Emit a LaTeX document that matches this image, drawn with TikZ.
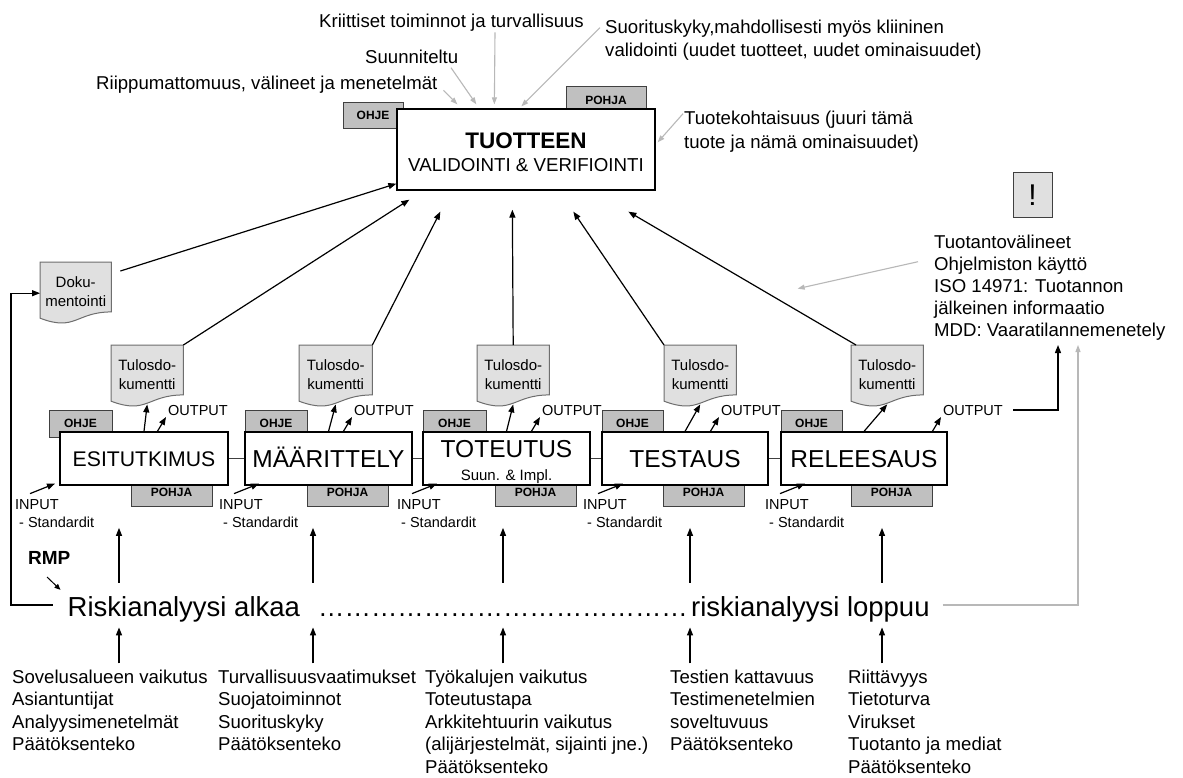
\documentclass[tikz,border=0pt]{standalone}
\usepackage{fontspec}
\setmainfont{Liberation Sans}
\usetikzlibrary{arrows.meta,calc}
\pgfdeclarelayer{back}
\pgfsetlayers{back,main}

\newcommand\fsz[2]{\fontsize{#1}{#2}\selectfont}

\definecolor{tabfill}{HTML}{C0C0C0}
\definecolor{tabline}{HTML}{404040}
\definecolor{docfill}{HTML}{E0E0E0}
\definecolor{docline}{HTML}{6E6E6E}
\definecolor{hint}{HTML}{B8B8B8}
\definecolor{link}{HTML}{404040}

% document symbol (wavy lower edge) drawn round a named node
\newcommand\docpath[1]{%
  \draw[docshape] let \p1=(#1.north west), \p2=(#1.south east) in
    (\x1,\y1) -- (\x2,\y1) -- (\x2,{\y1+0.80*((\y2)-(\y1))})
    .. controls ({0.5*(\x1+\x2)},{\y1+0.80*((\y2)-(\y1))})
            and ({0.5*(\x1+\x2)},{\y1+1.12*((\y2)-(\y1))})
    .. (\x1,{\y1+0.90*((\y2)-(\y1))}) -- cycle;}

\begin{document}
\begin{tikzpicture}[x=1pt,y=-1pt,
  wbox/.style={draw=black, line width=1.2pt, fill=white, inner sep=0pt},
  stage/.style={wbox, minimum height=53pt, font=\fsz{24.5}{28},
                text height=17.5pt, text depth=0pt},
  tabbox/.style={draw=tabline, line width=1pt, fill=tabfill, inner sep=0pt,
                 font=\bfseries\fsz{12}{14}, text height=8.6pt, text depth=0pt},
  ohje/.style={tabbox, minimum width=62pt, minimum height=27pt},
  pohja/.style={tabbox, minimum width=81pt, minimum height=28pt},
  docnode/.style={inner sep=0pt, minimum width=72pt, minimum height=62pt,
                  anchor=north west, font=\fsz{15}{19}},
  docshape/.style={draw=docline, fill=docfill, line width=1pt},
  lbl/.style={inner sep=0pt, font=\fsz{18.6}{22.5}},
  iolbl/.style={inner sep=0pt, font=\fsz{14.5}{18}},
  big/.style={inner sep=0pt, font=\fsz{27.5}{30}},
  barrow/.style={draw=black, line width=1.2pt, -{Triangle[length=8pt,width=6pt]}},
  garrow/.style={draw=hint, line width=1.1pt, -{Triangle[length=7pt,width=5pt]}},
  link/.style={draw=link, line width=1pt}
]
\useasboundingbox (0,0) rectangle (1183,777);
\begin{pgfonlayer}{back}
  \fill[white] (0,0) rectangle (1183,777);
\end{pgfonlayer}

% ---------- product box with its tabs ----------
\node[tabbox, minimum width=60pt, minimum height=26pt] (mohje) at (373,115) {OHJE};
\node[tabbox, minimum width=80pt, minimum height=28pt] (mpohja) at (606,100) {POHJA};
\node[wbox, line width=1.3pt, minimum width=258pt, minimum height=81pt,
      font=\bfseries\fsz{22.5}{26}, text height=16.1pt, text depth=0pt]
      (main) at (526,149.5) {\raisebox{9.5pt}{TUOTTEEN}};
\node[inner sep=0pt, anchor=base, font=\fsz{18.7}{22}] (mainsub) at (526,171.7)
      {VALIDOINTI \& VERIFIOINTI};

% ---------- labels round the product box ----------
\node[lbl, anchor=base west] (krit) at (319,27.3) {Kriittiset toiminnot ja turvallisuus};
\node[lbl, anchor=base west] (suun) at (365,63.3) {Suunniteltu};
\node[lbl, anchor=base west] (riip) at (96,89.3) {Riippumattomuus, välineet ja menetelmät};
\node[lbl, anchor=north west, align=left, font=\fsz{18.6}{23}] (suor) at (605,19.7)
      {Suorituskyky,mahdollisesti myös kliininen\\validointi (uudet tuotteet, uudet ominaisuudet)};
\node[lbl, anchor=north west, align=left, font=\fsz{18.6}{24}] (tuote) at (684,110.7)
      {Tuotekohtaisuus (juuri tämä\\tuote ja nämä ominaisuudet)};

\node[draw=tabline, fill=docfill, line width=1pt, minimum width=39pt, minimum height=45pt,
      inner sep=0pt, font=\fsz{30}{32}, text height=21.5pt, text depth=0pt]
      (excl) at (1032.5,194.5) {!};
\node[lbl, anchor=north west, align=left, font=\fsz{18.6}{22}] (rblk) at (934,234.7)
      {Tuotantovälineet\\Ohjelmiston käyttö\\ISO 14971: Tuotannon\\jälkeinen informaatio\\MDD: Vaaratilannemenetely};

\draw[garrow] ($(krit.south west)+(176,1)$) -- ($(main.north west)+(98,-4)$);
\draw[garrow] ($(suun.south west)+(86,4)$) -- ($(main.north west)+(80,-4)$);
\draw[garrow] ($(riip.south east)+(6,-3)$) -- ($(main.north west)+(61,-4)$);
\draw[garrow] ($(suor.north west)+(-5,8)$) -- ($(main.north west)+(125,-2)$);
\draw[garrow] ($(tuote.north west)+(-1,3)$) -- ($(main.north east)+(2,34)$);
\draw[garrow] ($(rblk.north west)+(-16,27)$) -- ($(main.south east)+(142,98)$);

% ---------- tabs behind the phase boxes ----------
\node[ohje, minimum width=63pt] (o1) at (80.5,423.5) {OHJE};
\node[ohje] (o2) at (276,423.5) {OHJE};
\node[ohje, minimum width=63pt] (o3) at (454.5,423.5) {OHJE};
\node[ohje, minimum width=61pt] (o4) at (632.5,423.5) {OHJE};
\node[ohje, minimum width=61pt] (o5) at (811.5,423.5) {OHJE};
\node[pohja] (p1) at (171.5,492) {POHJA};
\node[pohja] (p2) at (347.5,492) {POHJA};
\node[pohja] (p3) at (535.5,492) {POHJA};
\node[pohja] (p4) at (703.5,492) {POHJA};
\node[pohja] (p5) at (891.5,492) {POHJA};

% ---------- phase boxes ----------
\node[stage, minimum width=168pt, font=\fsz{21.2}{25}, text height=15.2pt] (esi) at (144,458.5) {ESITUTKIMUS};
\node[stage, minimum width=167pt] (maa) at (328.5,458.5) {MÄÄRITTELY};
\node[stage, minimum width=167pt] (tot) at (506.5,458.5) {\raisebox{10pt}{TOTEUTUS}};
\node[stage, minimum width=166pt] (tes) at (685,458.5) {TESTAUS};
\node[stage, minimum width=166pt] (rel) at (864,458.5) {RELEESAUS};
\node[inner sep=0pt, anchor=base, font=\fsz{15}{18}] (totsub) at (506.5,480.4) {Suun. \& Impl.};

\draw[link] (esi.east) -- (maa.west);
\draw[link] (maa.east) -- (tot.west);
\draw[link] (tot.east) -- (tes.west);
\draw[link] (tes.east) -- (rel.west);

% ---------- result documents ----------
\node[docnode] (t1) at (111,345) {\begin{tabular}{@{}c@{}}Tulosdo-\\kumentti\end{tabular}};
\node[docnode, minimum width=73pt] (t2) at (299,345) {\begin{tabular}{@{}c@{}}Tulosdo-\\kumentti\end{tabular}};
\node[docnode] (t3) at (477,345) {\begin{tabular}{@{}c@{}}Tulosdo-\\kumentti\end{tabular}};
\node[docnode] (t4) at (664,345) {\begin{tabular}{@{}c@{}}Tulosdo-\\kumentti\end{tabular}};
\node[docnode] (t5) at (851,345) {\begin{tabular}{@{}c@{}}Tulosdo-\\kumentti\end{tabular}};
\node[docnode, minimum width=71pt] (dok) at (40,262) {\begin{tabular}{@{}c@{}}Doku-\\mentointi\end{tabular}};
\begin{pgfonlayer}{back}
  \docpath{t1}\docpath{t2}\docpath{t3}\docpath{t4}\docpath{t5}\docpath{dok}
\end{pgfonlayer}

\draw[barrow] (esi.north) -- ($(t1.south)+(0,-3)$);
\draw[barrow] (maa.north) -- ($(t2.south)+(0,-3)$);
\draw[barrow] (tot.north) -- ($(t3.south)+(0,-3)$);
\draw[barrow] (tes.north) -- ($(t4.south)+(0,-3)$);
\draw[barrow] (rel.north) -- ($(t5.south)+(0,-3)$);

\draw[barrow] (t1.north east) -- ($(main.south west)+(13,9)$);
\draw[barrow] (t2.north east) -- ($(main.south west)+(44,21)$);
\draw[barrow] (t3.north) -- ($(main.south west)+(116,19)$);
\draw[barrow] (t4.north west) -- ($(main.south west)+(177,21)$);
\draw[barrow] ($(t5.north west)+(5,0)$) -- ($(main.south west)+(232,21)$);
\draw[barrow] ($(dok.north east)+(9,9)$) -- ($(main.south west)+(0,-7)$);

% ---------- inputs and outputs ----------
\node[iolbl, anchor=north west, align=left] (in1) at (15,499.6) {INPUT\\\hspace*{4pt}- Standardit};
\node[iolbl, anchor=north west, align=left] (in2) at (219,499.6) {INPUT\\\hspace*{4pt}- Standardit};
\node[iolbl, anchor=north west, align=left] (in3) at (397,499.6) {INPUT\\\hspace*{4pt}- Standardit};
\node[iolbl, anchor=north west, align=left] (in4) at (583,499.6) {INPUT\\\hspace*{4pt}- Standardit};
\node[iolbl, anchor=north west, align=left] (in5) at (765,499.6) {INPUT\\\hspace*{4pt}- Standardit};
\foreach \i in {1,...,5}
  \draw[barrow] ($(in\i.north west)+(15,-6)$) -- ($(in\i.north west)+(40,-16)$);

\node[iolbl, anchor=base west] (out1) at (168,415) {OUTPUT};
\node[iolbl, anchor=base west] (out2) at (354,415) {OUTPUT};
\node[iolbl, anchor=base west] (out3) at (542,415) {OUTPUT};
\node[iolbl, anchor=base west] (out4) at (721,415) {OUTPUT};
\node[iolbl, anchor=base west] (out5) at (943,415) {OUTPUT};
\foreach \i in {1,...,5}
  \draw[barrow] ($(out\i.base west)+(-11,17)$) -- ($(out\i.base west)+(-2,2)$);

\coordinate (outtip) at (1058,345);
\draw[barrow] ($(out5.east)+(10,0)$) -| (outtip);

% ---------- risk analysis row ----------
\node[big, anchor=base west] (alk) at (67.5,616) {Riskianalyysi alkaa};
\node[inner sep=0pt, anchor=base west, font=\fsz{26.4}{30}] (dots) at (318,616)
      {\foreach \k in {1,...,14}{…}};
\node[big, anchor=base west] (lop) at (691,616) {riskianalyysi loppuu};
\node[inner sep=0pt, anchor=base west, font=\bfseries\fsz{19}{22}] (rmp) at (28,564) {RMP};

\draw[draw=black, line width=1pt, -{Triangle[length=6pt,width=5pt]}]
      ($(rmp.base west)+(19,13)$) -- ($(alk.north west)+(-7,-6)$);
\draw[barrow] ($(alk.base west)+(-15,-11)$) -| ($(dok.west)+(-29,0)$) -- (dok.west);
\coordinate (risktip) at (1078,345);
\draw[garrow] ($(lop.base east)+(13,-11)$) -| (risktip);

% ---------- factors below the row ----------
\node[lbl, anchor=north west, align=left] (lst1) at (12,669.4)
      {Sovelusalueen vaikutus\\Asiantuntijat\\Analyysimenetelmät\\Päätöksenteko};
\node[lbl, anchor=north west, align=left] (lst2) at (218,669.4)
      {Turvallisuusvaatimukset\\Suojatoiminnot\\Suorituskyky\\Päätöksenteko};
\node[lbl, anchor=north west, align=left] (lst3) at (425,669.4)
      {Työkalujen vaikutus\\Toteutustapa\\Arkkitehtuurin vaikutus\\(alijärjestelmät, sijainti jne.)\\Päätöksenteko};
\node[lbl, anchor=north west, align=left] (lst4) at (670,669.4)
      {Testien kattavuus\\Testimenetelmien\\soveltuvuus\\Päätöksenteko};
\node[lbl, anchor=north west, align=left] (lst5) at (848,669.4)
      {Riittävyys\\Tietoturva\\Virukset\\Tuotanto ja mediat\\Päätöksenteko};

\coordinate (col1) at (119,0);
\coordinate (col2) at (313,0);
\coordinate (col3) at (503,0);
\coordinate (col4) at (690,0);
\coordinate (col5) at (882,0);
\foreach \c in {1,...,5} {
  \draw[barrow] (col\c |- alk.north) ++(0,-13) -- ++(0,-55);
  \draw[barrow] (col\c |- lst1.north) ++(0,-6) -- ++(0,-36);
}
\end{tikzpicture}
\end{document}
